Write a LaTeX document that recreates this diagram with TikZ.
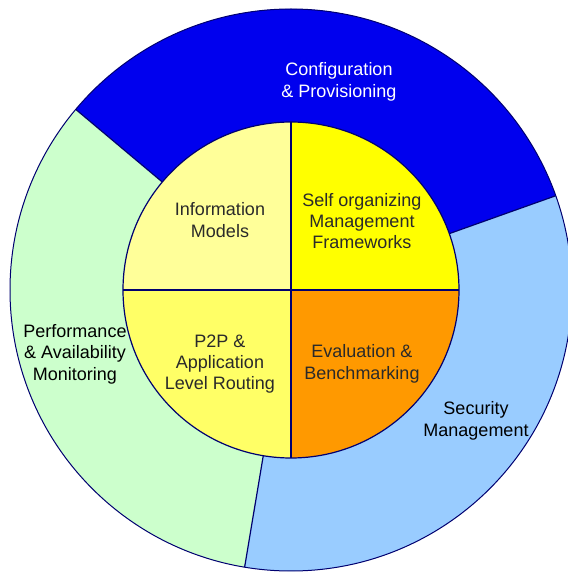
\documentclass[tikz,border=0pt]{standalone}
\usepackage{fontspec}
\setmainfont{Liberation Sans}
\usepackage{xcolor}

\definecolor{confBlue}{HTML}{0000EE}
\definecolor{secBlue}{HTML}{99CCFF}
\definecolor{perfGreen}{HTML}{CCFFCC}
\definecolor{infoYellow}{HTML}{FFFF99}
\definecolor{selfYellow}{HTML}{FFFF00}
\definecolor{routeYellow}{HTML}{FFFF66}
\definecolor{evalOrange}{HTML}{FF9900}
\definecolor{rimNavy}{HTML}{000070}
\definecolor{labelGray}{HTML}{2A2A2A}

\begin{document}
\begin{tikzpicture}[
  x=1pt,y=1pt,
  every node/.style={align=center,font=\fontsize{18}{21.4}\selectfont},
  rim/.style={draw=rimNavy,line width=1.2pt},
  outerRim/.style={draw=rimNavy,line width=1pt},
  innerLabel/.style={text=labelGray},
  outerLabel/.style={text=black}]

  \useasboundingbox (0,0) rectangle (568,574);
  \coordinate (c) at (291,284);

  % outer ring sectors
  \fill[confBlue] (c) -- ++(19.6:281) arc[start angle=19.6,end angle=140,radius=281] -- cycle;
  \fill[perfGreen] (c) -- ++(140:281) arc[start angle=140,end angle=260.5,radius=281] -- cycle;
  \fill[secBlue] (c) -- ++(260.5:281) arc[start angle=260.5,end angle=379.6,radius=281] -- cycle;

  % sector borders
  \draw[rim] (c) ++(19.6:168) -- ++(19.6:113);
  \draw[rim] (c) ++(140:168) -- ++(140:113);
  \draw[rim] (c) ++(260.5:168) -- ++(260.5:113);
  \draw[outerRim] (c) circle[radius=281];

  % inner quadrants
  \fill[selfYellow] (c) -- ++(0:168) arc[start angle=0,end angle=90,radius=168] -- cycle;
  \fill[infoYellow] (c) -- ++(90:168) arc[start angle=90,end angle=180,radius=168] -- cycle;
  \fill[routeYellow] (c) -- ++(180:168) arc[start angle=180,end angle=270,radius=168] -- cycle;
  \fill[evalOrange] (c) -- ++(270:168) arc[start angle=270,end angle=360,radius=168] -- cycle;
  \draw[rim] (c) ++(0,168) -- ++(0,-336);
  \draw[rim] (c) ++(-168,0) -- ++(336,0);
  \draw[rim] (c) circle[radius=168];

  % labels
  \node[text=white] (conf) at (339,492) {Configuration\\\& Provisioning};
  \node[outerLabel] (perf) at (75,220) {Performance\\\& Availability\\Monitoring};
  \node[outerLabel] (sec) at (476,153) {Security\\Management};

  \node[innerLabel] (info) at (220,354) {Information\\Models};
  \node[innerLabel] (self) at (362,353) {Self organizing\\Management\\Frameworks};
  \node[innerLabel] (route) at (220,210) {P2P \&\\Application\\Level Routing};
  \node[innerLabel] (eval) at (362,210) {Evaluation \&\\Benchmarking};

\end{tikzpicture}
\end{document}
